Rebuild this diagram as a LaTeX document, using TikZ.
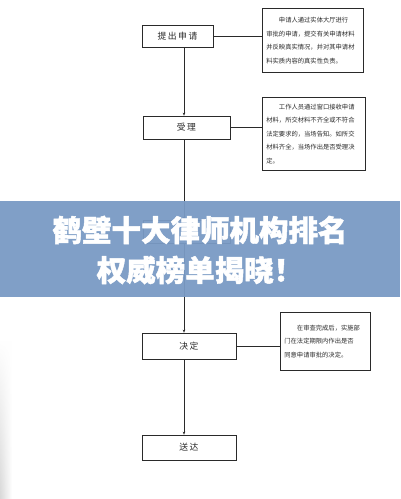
\documentclass[tikz,border=0pt]{standalone}
\usepackage{fontspec}
\newfontfamily\cjk{Noto Sans CJK SC}
\newfontfamily\cjkheavy[FakeBold=1.6]{Noto Sans CJK SC}
\usetikzlibrary{arrows.meta,fadings}
\definecolor{banner}{HTML}{7A9AC4}
\definecolor{ink}{HTML}{2A2A2A}
\tikzset{
  stepbox/.style={draw=ink, line width=0.7pt, inner sep=0pt, text=ink,
    font=\cjk\fontsize{8.8}{10}\selectfont},
  notebox/.style={draw=ink, line width=0.7pt, inner xsep=4pt, inner ysep=2pt,
    anchor=north west, align=left, text=ink,
    font=\cjk\fontsize{6.3}{13.5}\selectfont},
  flow/.style={draw=ink, line width=0.5pt, -{Stealth[length=3pt,width=2.5pt]}},
  link/.style={draw=ink, line width=0.5pt},
}
\begin{document}
\begin{tikzpicture}[x=1pt,y=-1pt]
\useasboundingbox (0,0) rectangle (400,499);
\fill[white] (0,0) rectangle (400,499);
\shade[left color=gray!30, right color=white, path fading=north] (0,340) rectangle (12,499);

% step boxes
\node[stepbox, minimum width=71pt, minimum height=22pt] (b1) at (177.5,36) {提\,出\,申\,请};
\node[stepbox, minimum width=87pt, minimum height=23pt] (b2) at (186.5,127.5) {受\,理};
\node[stepbox, minimum width=87pt, minimum height=23pt] (b3) at (186.5,231.5) {};
\node[stepbox, minimum width=94pt, minimum height=26pt] (b4) at (189,346) {决\,定};
\node[stepbox, minimum width=94pt, minimum height=25pt] (b5) at (189,447.5) {送\,达};

% notes
\node[notebox, text width=93pt, minimum height=64pt] (n1) at (262,8)
  {\hspace*{2em}申请人通过实体大厅进行\\审批的申请，提交有关申请材料\\并反映真实情况，并对其申请材\\料实质内容的真实性负责。};
\node[notebox, text width=95pt, minimum height=73pt] (n2) at (262,97)
  {\hspace*{2em}工作人员通过窗口接收申请\\材料，所交材料不齐全或不符合\\法定要求的，当场告知。如所交\\材料齐全，当场作出是否受理决\\定。};
\node[notebox, text width=82pt, minimum height=58pt] (n4) at (280,312)
  {\hspace*{2em}在审查完成后，实施部\\门在法定期限内作出是否\\同意申请审批的决定。};

% connectors
\coordinate (spine) at (184,0);
\draw[flow] (b1.south -| spine) -- (b2.north -| spine);
\draw[flow] (b2.south -| spine) -- (b3.north -| spine);
\draw[flow] (b3.south -| spine) -- (b4.north -| spine);
\draw[flow] (b4.south -| spine) -- (b5.north -| spine);
\draw[link] (b1.east) -- (n1.west |- b1.east);
\draw[link] (b2.east) -- (n2.west |- b2.east);
\draw[link] (b4.east) -- (n4.west |- b4.east);

% banner
\fill[banner, fill opacity=0.95] (0,201) rectangle (400,297);
\node[text=white, align=center, font=\cjkheavy\bfseries\fontsize{29.5}{40}\selectfont] (title) at (200,250)
  {鹤壁十大律师机构排名\\权威榜单揭晓！};
\end{tikzpicture}
\end{document}
